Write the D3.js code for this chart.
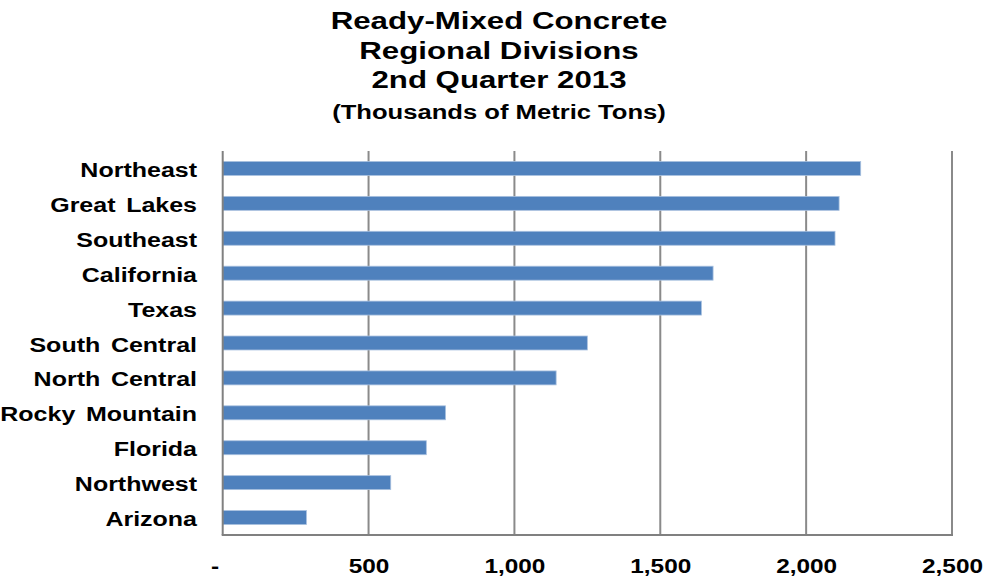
<!DOCTYPE html>
<html>
<head>
<meta charset="utf-8">
<script src="https://cdn.jsdelivr.net/npm/d3@7/dist/d3.min.js"></script>
<style>
  html, body { margin: 0; padding: 0; background: #ffffff; }
  svg { display: block; }
  text { font-family: "Liberation Sans", Arial, Helvetica, sans-serif; font-weight: bold; fill: #000; }
</style>
</head>
<body>
<svg id="chart" width="995" height="578"></svg>
<script>
// Regional divisions, top to bottom
const regions = ["Northeast", "Great Lakes", "Southeast", "California", "Texas",
  "South Central", "North Central", "Rocky Mountain", "Florida", "Northwest", "Arizona"];
// Ready-mixed concrete volume, thousands of metric tons
const volumes = [2187, 2113, 2099, 1681, 1641, 1250, 1143, 764, 698, 576, 287];
// Axis ticks
const tickValues = [0, 500, 1000, 1500, 2000, 2500];
const tickLabels = ["-", "500", "1,000", "1,500", "2,000", "2,500"];
const titleLines = ["Ready-Mixed Concrete", "Regional Divisions", "2nd Quarter 2013"];
const subtitle = "(Thousands of Metric Tons)";

const svg = d3.select("#chart");
const plot = { left: 222.7, right: 952, top: 151, bottom: 535 };
const stretch = 1.25;

const x = d3.scaleLinear().domain([0, 2500]).range([plot.left, plot.right]);
const y = d3.scaleBand().domain(regions).range([plot.top, plot.bottom])
  .paddingInner(0.6).paddingOuter(0.3);

// Title block
const titleX = 499;
titleLines.forEach((t, i) => {
  svg.append("g")
    .attr("transform", `translate(${titleX},${29.3 + i * 29.5}) scale(1.26,1)`)
    .append("text").attr("text-anchor", "middle").style("font-size", "24.8px").text(t);
});
svg.append("g")
  .attr("transform", `translate(${titleX},118.5) scale(1.22,1)`)
  .append("text").attr("text-anchor", "middle").style("font-size", "21px").text(subtitle);

// Vertical gridlines
svg.append("g").selectAll("line")
  .data(tickValues.slice(1))
  .join("line")
  .attr("x1", d => x(d)).attr("x2", d => x(d))
  .attr("y1", plot.top).attr("y2", plot.bottom)
  .attr("stroke", "#8a8a8a").attr("stroke-width", 2);

// Bars
svg.append("g").selectAll("rect")
  .data(regions.map((r, i) => ({ r, v: volumes[i] })))
  .join("rect")
  .attr("x", x(0))
  .attr("y", d => y(d.r))
  .attr("width", d => x(d.v) - x(0))
  .attr("height", y.bandwidth())
  .attr("fill", "#4f81bd")
  .attr("stroke", "#a9c1df")
  .attr("stroke-width", 0.8);

// Left axis line and bottom axis line
svg.append("line")
  .attr("x1", plot.left).attr("x2", plot.left)
  .attr("y1", plot.top).attr("y2", plot.bottom)
  .attr("stroke", "#808080").attr("stroke-width", 2);
svg.append("line")
  .attr("x1", plot.left - 1).attr("x2", plot.right + 1)
  .attr("y1", plot.bottom).attr("y2", plot.bottom)
  .attr("stroke", "#808080").attr("stroke-width", 2);

// Category labels
svg.append("g").selectAll("g")
  .data(regions)
  .join("g")
  .attr("transform", d => `translate(197,${y(d) + y.bandwidth() / 2 + 8.5}) scale(${stretch},1)`)
  .append("text")
  .attr("text-anchor", "end")
  .style("font-size", "20px")
  .style("word-spacing", "3px")
  .text(d => d);

// Value axis labels
const xAxis = d3.axisBottom(x)
  .tickValues(tickValues)
  .tickSize(0)
  .tickPadding(0)
  .tickFormat((d, i) => tickLabels[i]);
const ax = svg.append("g").attr("transform", `translate(0,572.5)`).call(xAxis);
ax.select(".domain").remove();
ax.selectAll("text")
  .attr("y", 0).attr("dy", 0)
  .style("font-size", "19.5px")
  .attr("fill", "#000")
  .attr("transform", `scale(${stretch},1)`)
  .attr("dx", (d) => d === 0 ? -6.5 : 0);
</script>
</body>
</html>
